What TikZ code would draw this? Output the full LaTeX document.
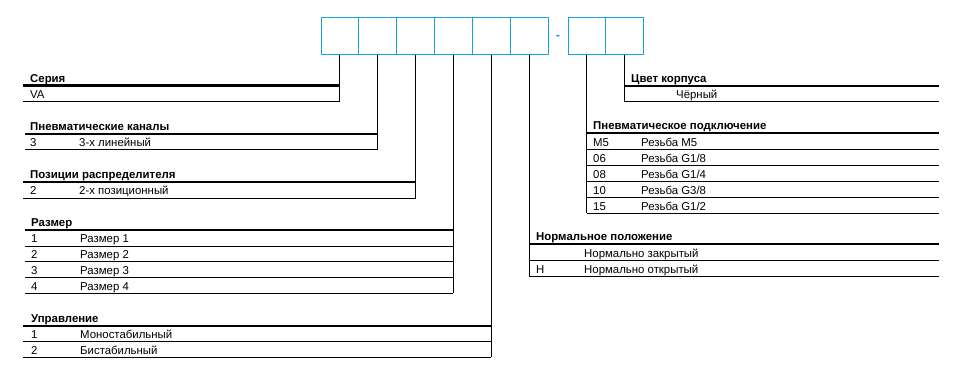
\documentclass[tikz,border=0pt]{standalone}
\usepackage{fontspec}
\setmainfont{Liberation Sans}
\definecolor{boxblue}{RGB}{20,165,225}
\begin{document}
\begin{tikzpicture}[x=1pt,y=-1pt,
  txt/.style={anchor=base west, inner sep=0pt, font=\fontsize{11.4}{13}\selectfont},
  head/.style={anchor=base west, inner sep=0pt, font=\bfseries\fontsize{11.4}{13}\selectfont},
  thickrule/.style={line width=2.2pt},
  thinrule/.style={line width=1pt},
  codebox/.style={draw=boxblue, line width=1pt, minimum width=37.8pt, minimum height=37.5pt, inner sep=0pt}]
\useasboundingbox (0,0) rectangle (979,384);
% code boxes
\node[codebox] (b1) at (339.9,36) {};
\node[codebox] (b2) at (377.7,36) {};
\node[codebox] (b3) at (415.6,36) {};
\node[codebox] (b4) at (453.4,36) {};
\node[codebox] (b5) at (491.2,36) {};
\node[codebox] (b6) at (529.1,36) {};
\node[codebox, minimum width=37.5pt] (b7) at (586.8,36) {};
\node[codebox, minimum width=37.5pt] (b8) at (624.3,36) {};
\node[inner sep=0pt, text=boxblue, font=\bfseries\fontsize{13}{13}\selectfont] (dash) at (558,37.8) {-};
% ---- Серия
\coordinate (t1a) at (23,85.5);   \coordinate (t1b) at (339.9,85.5);
\coordinate (t1c) at (23,101.6);  \coordinate (t1d) at (339.9,101.6);
\node[head] (h1) at (30,82) {Серия};
\node[txt] (r1a) at (30,98.3) {VA};
\draw[thickrule] (t1a) -- (t1b);
\draw[thinrule] (t1c) -- (t1d);
\draw[thinrule] (b1.south) -- (t1d);
% ---- Пневматические каналы
\coordinate (t2a) at (25,134);   \coordinate (t2b) at (377.7,134);
\coordinate (t2c) at (25,149.8); \coordinate (t2d) at (377.7,149.8);
\node[head] (h2) at (30,130.5) {Пневматические каналы};
\node[txt] (r2a) at (30,146.6) {3};
\node[txt] (r2b) at (79,146.6) {3-х линейный};
\draw[thickrule] (t2a) -- (t2b);
\draw[thinrule] (t2c) -- (t2d);
\draw[thinrule] (b2.south) -- (t2d);
% ---- Позиции распределителя
\coordinate (t3a) at (23,182.3);   \coordinate (t3b) at (415.6,182.3);
\coordinate (t3c) at (23,198);     \coordinate (t3d) at (415.6,198);
\node[head] (h3) at (30,178.8) {Позиции распределителя};
\node[txt] (r3a) at (30,194.9) {2};
\node[txt] (r3b) at (79,194.9) {2-х позиционный};
\draw[thickrule] (t3a) -- (t3b);
\draw[thinrule] (t3c) -- (t3d);
\draw[thinrule] (b3.south) -- (t3d);
% ---- Размер
\coordinate (t4a) at (25,230.2);   \coordinate (t4b) at (453.4,230.2);
\coordinate (t4d) at (453.4,293.4);
\node[head] (h4) at (31,226.7) {Размер};
\draw[thickrule] (t4a) -- (t4b);
\foreach \i/\n in {1/1,2/2,3/3,4/4}{
  \node[txt] (r4a\i) at (31,230.2+15.8*\i-3.1) {\n};
  \node[txt] (r4b\i) at (80,230.2+15.8*\i-3.1) {Размер \n};
  \coordinate (l4a\i) at (25,230.2+15.8*\i);
  \coordinate (l4b\i) at (453.4,230.2+15.8*\i);
  \draw[thinrule] (l4a\i) -- (l4b\i);
}
\draw[thinrule] (b4.south) -- (t4d);
% ---- Управление
\coordinate (t5a) at (23,325.7);   \coordinate (t5b) at (491.2,325.7);
\coordinate (t5d) at (491.2,357.1);
\node[head] (h5) at (31,322.2) {Управление};
\draw[thickrule] (t5a) -- (t5b);
\foreach \i/\c/\d in {1/1/Моностабильный,2/2/Бистабильный}{
  \node[txt] (r5a\i) at (31,325.7+15.7*\i-3.1) {\c};
  \node[txt] (r5b\i) at (80,325.7+15.7*\i-3.1) {\d};
  \coordinate (l5a\i) at (23,325.7+15.7*\i);
  \coordinate (l5b\i) at (491.2,325.7+15.7*\i);
  \draw[thinrule] (l5a\i) -- (l5b\i);
}
\draw[thinrule] (b5.south) -- (t5d);
% ---- Цвет корпуса
\coordinate (t8a) at (624.3,85.7);  \coordinate (t8b) at (939,85.7);
\coordinate (t8c) at (624.3,101.7); \coordinate (t8d) at (939,101.7);
\node[head] (h8) at (631,82.2) {Цвет корпуса};
\node[txt] (r8b) at (676,98.4) {Чёрный};
\draw[thickrule] (t8a) -- (t8b);
\draw[thinrule] (t8c) -- (t8d);
\draw[thinrule] (b8.south) -- (t8c);
% ---- Пневматическое подключение
\coordinate (t7a) at (586.8,133.3);  \coordinate (t7b) at (939,133.3);
\coordinate (t7c) at (586.8,213.3);
\node[head] (h7) at (593,129.8) {Пневматическое подключение};
\draw[thickrule] (t7a) -- (t7b);
\foreach \i/\c/\d in {1/M5/Резьба M5,2/06/Резьба G1\slash 8,3/08/Резьба G1\slash 4,4/10/Резьба G3\slash 8,5/15/Резьба G1\slash 2}{
  \node[txt] (r7a\i) at (593,133.3+16*\i-3.2) {\c};
  \node[txt] (r7b\i) at (641,133.3+16*\i-3.2) {\d};
  \coordinate (l7a\i) at (586.8,133.3+16*\i);
  \coordinate (l7b\i) at (939,133.3+16*\i);
  \draw[thinrule] (l7a\i) -- (l7b\i);
}
\draw[thinrule] (b7.south) -- (t7c);
% ---- Нормальное положение
\coordinate (t6a) at (529.1,244.3);  \coordinate (t6b) at (939,244.3);
\coordinate (t6c) at (529.1,276.3);
\node[head] (h6) at (536,240.8) {Нормальное положение};
\draw[thickrule] (t6a) -- (t6b);
\foreach \i/\c/\d in {1/{}/Нормально закрытый,2/H/Нормально открытый}{
  \node[txt] (r6a\i) at (536,244.3+16*\i-3.2) {\c};
  \node[txt] (r6b\i) at (584,244.3+16*\i-3.2) {\d};
  \coordinate (l6a\i) at (529.1,244.3+16*\i);
  \coordinate (l6b\i) at (939,244.3+16*\i);
  \draw[thinrule] (l6a\i) -- (l6b\i);
}
\draw[thinrule] (b6.south) -- (t6c);
\end{tikzpicture}
\end{document}
